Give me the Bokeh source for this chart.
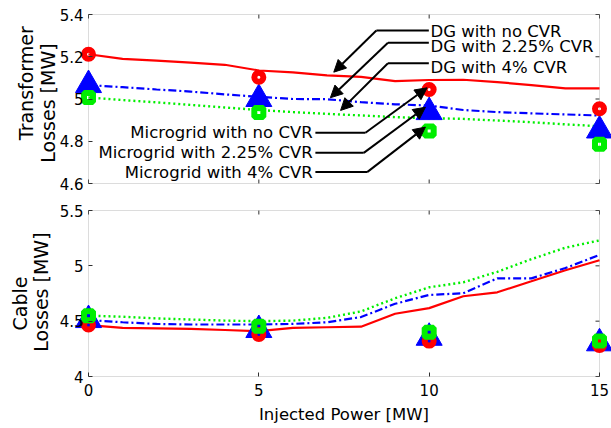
import math
from bokeh.plotting import figure
from bokeh.layouts import column
from bokeh.models import (Range1d, LinearAxis, FixedTicker, Label, Arrow, NormalHead,
                          BoxAnnotation)
from bokeh.embed import file_html
from bokeh.resources import INLINE

# ---- data -------------------------------------------------------------
injected = list(range(16))          # injected power [MW] for the DG curves
injected_mg = [0, 5, 10, 15]        # injected power [MW] for the microgrid points

# Transformer losses [MW]
tr_dg_none = [5.212, 5.190, 5.182, 5.172, 5.162, 5.135, 5.126, 5.112,
              5.105, 5.085, 5.090, 5.091, 5.080, 5.066, 5.050, 5.050]
tr_dg_225 = [5.066, 5.056, 5.045, 5.035, 5.022, 5.010, 5.000, 4.999,
             4.985, 4.975, 4.969, 4.948, 4.938, 4.932, 4.927, 4.922]
tr_dg_4 = [5.007, 4.995, 4.984, 4.972, 4.960, 4.948, 4.938, 4.930,
           4.922, 4.914, 4.909, 4.906, 4.898, 4.890, 4.880, 4.871]
tr_mg_none = [5.212, 5.103, 5.045, 4.954]
tr_mg_225 = [5.066, 5.000, 4.938, 4.851]
tr_mg_4 = [5.007, 4.936, 4.849, 4.786]

# Cable losses [MW]
cb_dg_none = [4.465, 4.440, 4.435, 4.430, 4.420, 4.410, 4.440, 4.445,
              4.450, 4.567, 4.618, 4.725, 4.761, 4.860, 4.960, 5.050]
cb_dg_225 = [4.510, 4.490, 4.475, 4.470, 4.470, 4.470, 4.475, 4.490,
             4.537, 4.657, 4.737, 4.752, 4.887, 4.887, 4.980, 5.099]
cb_dg_4 = [4.550, 4.540, 4.525, 4.515, 4.505, 4.500, 4.505, 4.530,
           4.588, 4.707, 4.806, 4.851, 4.946, 5.060, 5.164, 5.230]
cb_mg_none = [4.465, 4.380, 4.320, 4.280]
cb_mg_225 = [4.510, 4.420, 4.350, 4.300]
cb_mg_4 = [4.550, 4.455, 4.400, 4.320]

x_ticks = [0, 5, 10, 15]
x_tick_labels = ["0", "5", "10", "15"]
tr_ticks = [4.6, 4.8, 5.0, 5.2, 5.4]
tr_tick_labels = ["4.6", "4.8", "5", "5.2", "5.4"]
cb_ticks = [4.0, 4.5, 5.0, 5.5]
cb_tick_labels = ["4", "4.5", "5", "5.5"]

# ---- layout / styling -------------------------------------------------
FONT = "DejaVu Sans"
RED, BLUE, GREEN = "#ff0000", "#0000ff", "#00ee00"
BOX = "#8c8c8c"
TICK = "#303030"
TICK_LEN = 4                                # inward tick length, px
W = 611
BOX_L, BOX_R = 88, 599                      # pixel columns of x = 0 and x = 15
XS = (BOX_R - BOX_L) / 15.0                 # pixels per MW


def make_fig(height, box_top, box_bottom, lo, hi):
    """Frame fills the whole canvas so edge markers and titles are not clipped;
    the plotting box is drawn at the data limits."""
    ys = (box_bottom - box_top) / (hi - lo)
    p = figure(width=W, height=height, output_backend="svg", toolbar_location=None,
               x_range=Range1d(-BOX_L / XS, 15 + (W - BOX_R) / XS),
               y_range=Range1d(lo - (height - box_bottom) / ys, hi + box_top / ys),
               min_border_left=0, min_border_right=0,
               min_border_top=0, min_border_bottom=0,
               x_axis_location=None, y_axis_location=None)
    p.grid.visible = False
    p.outline_line_color = None
    p.add_layout(BoxAnnotation(left=0, right=15, bottom=lo, top=hi, level="underlay",
                               fill_alpha=0, line_color=BOX, line_width=1))
    return p, ys


def labelled_axis(p, side, ticks, labels, loc, bounds):
    ax = LinearAxis(ticker=FixedTicker(ticks=ticks), fixed_location=loc, bounds=bounds)
    ax.axis_line_color = None
    ax.major_tick_in = TICK_LEN
    ax.major_tick_out = 0
    ax.major_tick_line_color = TICK
    ax.minor_tick_line_color = None
    ax.major_label_overrides = {t: s for t, s in zip(ticks, labels)}
    ax.major_label_text_font = FONT
    ax.major_label_text_font_size = "15px"
    ax.major_label_text_color = "black"
    ax.major_label_standoff = 5
    p.add_layout(ax, side)
    return ax


def inner_ticks(p, ys, y_ticks, lo, hi, bottom=True):
    """Short inward ticks on the unlabelled sides of the box."""
    dx = TICK_LEN / XS
    dy = TICK_LEN / ys
    p.segment(x0=[15] * len(y_ticks), x1=[15 - dx] * len(y_ticks),
              y0=y_ticks, y1=y_ticks, line_color=TICK, line_width=1, level="underlay")
    p.segment(x0=x_ticks, x1=x_ticks, y0=[hi] * len(x_ticks), y1=[hi - dy] * len(x_ticks),
              line_color=TICK, line_width=1, level="underlay")
    if bottom:
        p.segment(x0=x_ticks, x1=x_ticks, y0=[lo] * len(x_ticks),
                  y1=[lo + dy] * len(x_ticks), line_color=TICK, line_width=1,
                  level="underlay")


def draw_series(p, dg, mg):
    none_, c225, c4 = dg
    p.line(injected, none_, line_color=RED, line_width=2.2)
    p.line(injected, c225, line_color=BLUE, line_width=2.2, line_dash="8 3 2 3")
    p.line(injected, c4, line_color=GREEN, line_width=2.4, line_dash="2 3")
    m_none, m225, m4 = mg
    p.scatter(injected_mg, m225, marker="triangle", size=26,
              fill_color=BLUE, line_color=BLUE, line_width=1)
    p.scatter(injected_mg, m_none, marker="circle", size=9,
              fill_color=None, line_color=RED, line_width=6)
    p.scatter(injected_mg, m4, marker="square", size=9,
              fill_color=None, line_color=GREEN, line_width=6)


def y_title(p, x, y, text):
    p.add_layout(Label(x=x, y=y, text=text, angle=math.pi / 2,
                       text_align="center", text_baseline="middle",
                       text_font=FONT, text_font_size="19px", text_color="black"))


# ---- transformer losses ----------------------------------------------
p1, ys1 = make_fig(197, 14, 183, 4.6, 5.4)
labelled_axis(p1, "left", tr_ticks, tr_tick_labels, 0, (4.6, 5.4))
inner_ticks(p1, ys1, tr_ticks, 4.6, 5.4, bottom=True)
draw_series(p1, (tr_dg_none, tr_dg_225, tr_dg_4), (tr_mg_none, tr_mg_225, tr_mg_4))
y_title(p1, -1.82, 5.075, "Transformer")
y_title(p1, -1.20, 4.995, "Losses  [MW]")

# callouts: text position, elbow and arrow tip in data units
dg_notes = [
    ("DG with no CVR", 5.321, 5.324, 8.45, 7.20, 5.127),
    ("DG with 2.25% CVR", 5.249, 5.266, 8.79, 7.10, 5.006),
    ("DG with 4% CVR", 5.151, 5.169, 8.79, 7.40, 4.946),
]
for text, ty, ly, ex, tx, tyy in dg_notes:
    p1.add_layout(Label(x=10.04, y=ty, text=text, text_align="left",
                        text_baseline="middle", text_font=FONT,
                        text_font_size="16.5px", text_color="black"))
    p1.line([9.99, ex], [ly, ly], line_color="black", line_width=2)
    p1.add_layout(Arrow(end=NormalHead(size=12, fill_color="black", line_color="black"),
                        x_start=ex, y_start=ly, x_end=tx, y_end=tyy,
                        line_color="black", line_width=2))

mg_notes = [
    ("Microgrid with no CVR", 4.840, 8.13, 9.94, 5.053),
    ("Microgrid with 2.25% CVR", 4.745, 8.08, 9.89, 4.961),
    ("Microgrid with 4% CVR", 4.654, 8.18, 9.89, 4.867),
]
for text, ly, ex, tx, tyy in mg_notes:
    p1.add_layout(Label(x=6.58, y=ly, text=text, text_align="right",
                        text_baseline="middle", text_font=FONT,
                        text_font_size="16.5px", text_color="black"))
    p1.line([6.66, ex], [ly, ly], line_color="black", line_width=2)
    p1.add_layout(Arrow(end=NormalHead(size=12, fill_color="black", line_color="black"),
                        x_start=ex, y_start=ly, x_end=tx, y_end=tyy,
                        line_color="black", line_width=2))

# ---- cable losses -----------------------------------------------------
p2, ys2 = make_fig(231, 13, 179, 4.0, 5.5)
labelled_axis(p2, "left", cb_ticks, cb_tick_labels, 0, (4.0, 5.5))
xb = labelled_axis(p2, "below", x_ticks, x_tick_labels, 4.0, (0, 15))
xb.major_label_standoff = 7
xb.axis_label = "Injected Power [MW]"
xb.axis_label_text_font = FONT
xb.axis_label_text_font_size = "16.5px"
xb.axis_label_text_font_style = "normal"
xb.axis_label_text_color = "black"
xb.axis_label_standoff = 6
inner_ticks(p2, ys2, cb_ticks, 4.0, 5.5, bottom=False)
draw_series(p2, (cb_dg_none, cb_dg_225, cb_dg_4), (cb_mg_none, cb_mg_225, cb_mg_4))
y_title(p2, -2.02, 4.66, "Cable")
y_title(p2, -1.40, 4.79, "Losses  [MW]")

layout = column(p1, p2, spacing=0)
open("out.html", "w").write(file_html(layout, INLINE))
